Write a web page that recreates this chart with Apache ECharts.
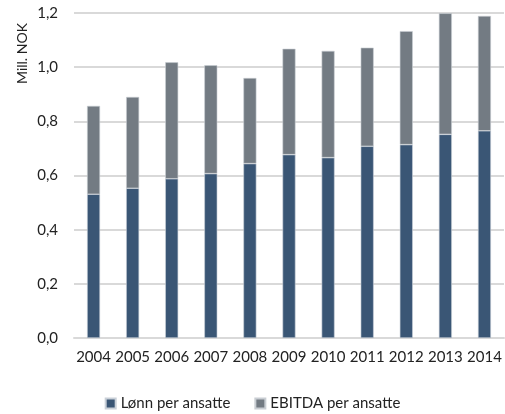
<!DOCTYPE html>
<html>
<head>
<meta charset="utf-8">
<script src="https://cdn.jsdelivr.net/npm/echarts@6/dist/echarts.min.js"></script>
<style>
  html, body { margin: 0; padding: 0; background: #fff; }
  #main { width: 505px; height: 414px; }
</style>
</head>
<body>
<div id="main"></div>
<script>
// data
var years = ["2004", "2005", "2006", "2007", "2008", "2009", "2010", "2011", "2012", "2013", "2014"];
var lonn = [0.531, 0.553, 0.588, 0.607, 0.644, 0.677, 0.666, 0.708, 0.714, 0.752, 0.765];
var ebitda = [0.326, 0.337, 0.430, 0.400, 0.316, 0.391, 0.394, 0.364, 0.419, 0.447, 0.424];
var seriesNames = ["Lønn per ansatte", "EBITDA per ansatte"];

var font = "Lato";
var chart = echarts.init(document.getElementById("main"));

var option = {
  animation: false,
  textStyle: { fontFamily: font },
  grid: { left: 74, right: 1, top: 13, bottom: 76 },
  legend: {
    bottom: -2,
    left: "center",
    itemWidth: 10,
    itemHeight: 10,
    itemGap: 24,
    icon: "rect",
    textStyle: { fontFamily: font, fontSize: 15, color: "#222" },
    data: seriesNames
  },
  graphic: [{
    type: "text",
    x: 22,
    y: 84,
    rotation: Math.PI / 2,
    style: {
      text: "Mill. NOK",
      font: "14px " + font,
      fill: "#222",
      align: "left",
      verticalAlign: "middle"
    }
  }],
  xAxis: {
    type: "category",
    data: years,
    axisLine: { show: true, lineStyle: { color: "#d9d9d9", width: 2 } },
    axisTick: { show: false },
    axisLabel: { color: "#222", fontSize: 15, margin: 12, interval: 0 }
  },
  yAxis: {
    type: "value",
    min: 0,
    max: 1.2,
    interval: 0.2,
    axisLine: { show: false },
    axisTick: { show: false },
    splitLine: { lineStyle: { color: "#d9d9d9", width: 2 } },
    axisLabel: {
      color: "#222",
      fontSize: 15,
      margin: 16,
      formatter: function (v) { return v.toFixed(1).replace(".", ","); }
    }
  },
  series: [
    {
      name: seriesNames[0],
      type: "bar",
      stack: "a",
      barWidth: 13,
      data: lonn,
      itemStyle: { color: "#3a5675", borderColor: "#c9d0d8", borderWidth: 0.6 }
    },
    {
      name: seriesNames[1],
      type: "bar",
      stack: "a",
      barWidth: 13,
      data: ebitda,
      itemStyle: { color: "#737b83", borderColor: "#c9ced3", borderWidth: 0.6 }
    }
  ]
};
chart.setOption(option);
</script>
</body>
</html>
